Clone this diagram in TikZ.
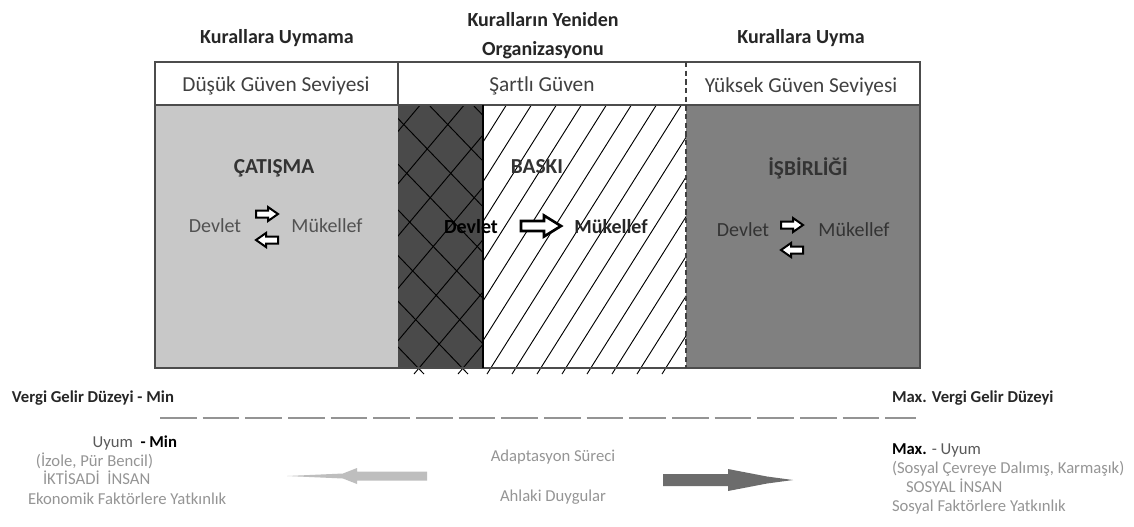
\documentclass[tikz,border=0pt]{standalone}
\usepackage{fontspec}
\setmainfont{Carlito}
\definecolor{leftgrey}{HTML}{C8C8C8}
\definecolor{darkgrey}{HTML}{4A4A4A}
\definecolor{rightgrey}{HTML}{808080}
\definecolor{lightarrowc}{HTML}{BEBEBE}
\definecolor{darkarrowc}{HTML}{6C6C6C}
\definecolor{softtext}{HTML}{959595}
\begin{document}
\begin{tikzpicture}[x=0.75pt,y=-0.75pt,
  every node/.style={inner sep=0pt, outer sep=0pt},
  headtxt/.style={font=\fontsize{15}{18}\selectfont\bfseries, text=black!85, anchor=base},
  rowtxt/.style={font=\fontsize{16}{19}\selectfont, text=black!75, anchor=base},
  zonelbl/.style={font=\fontsize{16}{19}\selectfont\bfseries, text=black!80, anchor=base},
  partytxt/.style={font=\fontsize{15}{18}\selectfont, anchor=base},
  foot/.style={font=\fontsize{12.5}{15}\selectfont},
  softfoot/.style={foot, text=softtext},
  boxline/.style={draw=black!70, line width=0.9pt},
  hatchline/.style={draw=black, line width=0.7pt},
  smallarrow/.pic={\draw[line width=1.5pt, fill=white, line join=miter]
     (-11,-3.5) -- (1,-3.5) -- (1,-7) -- (11,0) -- (1,7) -- (1,3.5) -- (-11,3.5) -- cycle;},
  bigarrow/.pic={\draw[line width=2pt, fill=white, line join=miter]
     (-20,-5) -- (3,-5) -- (3,-10.5) -- (20,0) -- (3,10.5) -- (3,5) -- (-20,5) -- cycle;}
]
\fill[white] (0,0) rectangle (1134,526);
\useasboundingbox (0,0) rectangle (1134,526);

% ---- headings
\node[headtxt] (h1) at (277,43) {Kurallara Uymama};
\node[headtxt] (h2a) at (543,26) {Kuralların Yeniden};
\node[headtxt] (h2b) at (543,55) {Organizasyonu};
\node[headtxt] (h3) at (801,43) {Kurallara Uyma};

% ---- zone fills
\fill[leftgrey] (155,105) rectangle (398,368);
\fill[darkgrey] (398,105) rectangle (483,368);
\fill[white] (483,105) rectangle (686,368);
\fill[rightgrey] (686,105) rectangle (920,368);

% ---- hatching
\begin{scope}
  \clip (398,105) rectangle (483,374);
  \foreach \k in {0,...,9} {
    \draw[hatchline] ({150+\k*44},374) -- ++(227,-270);
    \draw[hatchline] ({120+\k*44},104) -- ++(260,270);
  }
\end{scope}
\begin{scope}
  \clip (483,105) rectangle (686,374);
  \foreach \k in {0,...,15} {
    \draw[hatchline] ({312+\k*25},374) -- ++(170,-270);
  }
\end{scope}

% ---- frame
\draw[boxline] (155,62) rectangle (920,368);
\draw[boxline] (155,105) -- (920,105);
\draw[boxline] (398,62) -- (398,105);
\draw[draw=black, line width=1pt] (483,105) -- (483,368);
\draw[draw=black!75, line width=0.9pt, dash pattern=on 4pt off 2.5pt] (686,62) -- (686,368);

% ---- row texts
\node[rowtxt] (r1) at (276,91) {Düşük Güven Seviyesi};
\node[rowtxt] (r2) at (542,91) {Şartlı Güven};
\node[rowtxt] (r3) at (801,92) {Yüksek Güven Seviyesi};

% ---- zone labels
\node[zonelbl] (z1) at (274,173) {ÇATIŞMA};
\node[zonelbl] (z2) at (537,173) {BASKI};
\node[zonelbl] (z3) at (808,175) {İŞBİRLİĞİ};

% ---- conflict
\node[partytxt, text=black!68] (d1) at (215,232) {Devlet};
\node[partytxt, text=black!68] (m1) at (327,232) {Mükellef};
\pic at (267,214) {smallarrow};
\pic[rotate=180] at (267,240) {smallarrow};

% ---- pressure
\node[partytxt, font=\fontsize{15}{18}\selectfont\bfseries, text=black] (d2) at (471,233) {Devlet};
\pic at (541,226) {bigarrow};
\node[partytxt, font=\fontsize{15}{18}\selectfont\bfseries, text=black!85] (m2) at (611,233) {Mükellef};

% ---- cooperation
\node[partytxt, text=black!80] (d3) at (743,236) {Devlet};
\node[partytxt, text=black!80] (m3) at (854,236) {Mükellef};
\pic at (792,225) {smallarrow};
\pic[rotate=180] at (792,250) {smallarrow};

% ---- bottom scale
\node[foot, font=\fontsize{12.5}{15}\selectfont\bfseries, text=black!85, anchor=base west] (vmin) at (12,402) {Vergi Gelir Düzeyi - Min};
\node[foot, font=\fontsize{12.5}{15}\selectfont\bfseries, text=black!85, anchor=base west] (vmax) at (892,402) {Max. Vergi Gelir Düzeyi};
\coordinate (dl) at (160,418);
\coordinate (dr) at (916,418);
\draw[draw=black!42, line width=1.1pt, dash pattern=on 27.5pt off 4.5pt] (dl) -- (dr);

\node[foot, anchor=base east] (umin) at (177,447) {\textcolor{black!65}{Uyum}\ \ \textbf{- Min}};
\node[softfoot, anchor=base west] (l1) at (36,466) {(İzole, Pür Bencil)};
\node[softfoot, anchor=base west] (l2) at (43,484) {İKTİSADİ\ \ İNSAN};
\node[softfoot, anchor=base west] (l3) at (28,504) {Ekonomik Faktörlere Yatkınlık};

\node[foot, anchor=base west] (umax) at (892,454) {\textbf{Max.} \textcolor{black!65}{- Uyum}};
\node[softfoot, anchor=base west] (r1b) at (892,473) {(Sosyal Çevreye Dalımış, Karmaşık)};
\node[softfoot, anchor=base west] (r2b) at (906,492) {SOSYAL İNSAN};
\node[softfoot, anchor=base west] (r3b) at (892,511) {Sosyal Faktörlere Yatkınlık};

\node[softfoot, anchor=base] (ad) at (553,461) {Adaptasyon Süreci};
\node[softfoot, anchor=base] (ah) at (553,501) {Ahlaki Duygular};

% ---- process arrows
\fill[lightarrowc] (427,471.5) -- (357,471.5) -- (357,468) -- (343,473.5) -- (287,476) -- (343,478.5) -- (357,484) -- (357,480.5) -- (427,480.5) -- cycle;
\fill[darkarrowc] (663,474) -- (728,474) -- (728,469) -- (767,476.5) -- (793,480) -- (767,483.5) -- (728,491) -- (728,486) -- (663,486) -- cycle;
\end{tikzpicture}
\end{document}
